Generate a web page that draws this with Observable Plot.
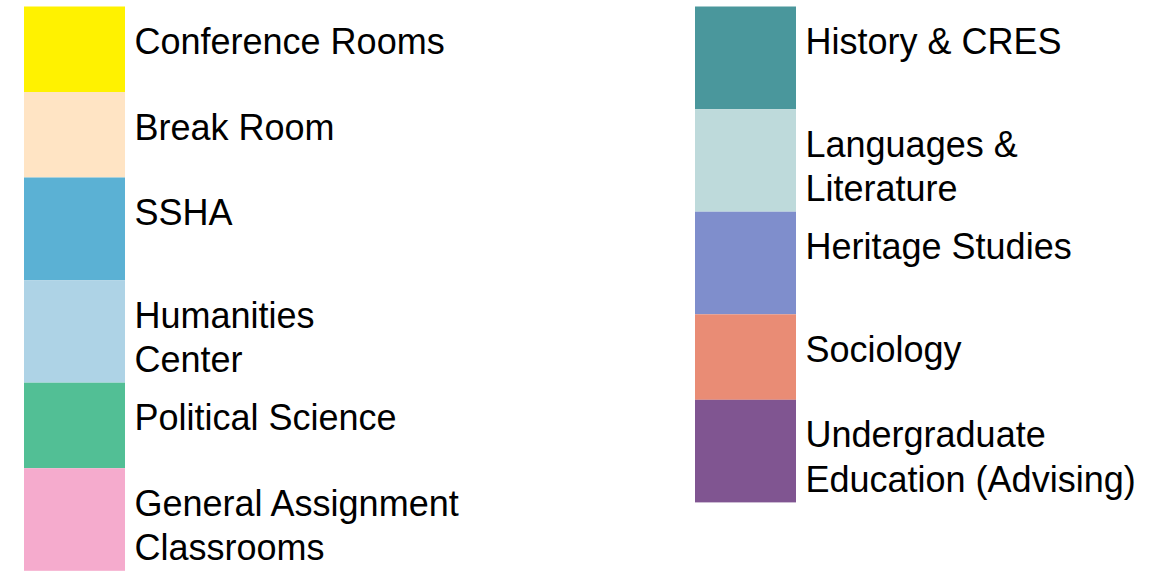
<!DOCTYPE html>
<html>
<head>
<meta charset="utf-8">
<script src="https://cdn.jsdelivr.net/npm/d3@7"></script>
<script src="https://cdn.jsdelivr.net/npm/@observablehq/plot@0.6"></script>
<style>
  html, body { margin: 0; padding: 0; background: #fff; }
  #chart svg { display: block; }
</style>
</head>
<body>
<div id="chart"></div>
<script>
// Legend entries: column (0 = left, 1 = right), label, relative block size, swatch colour
const columns = [0, 0, 0, 0, 0, 0, 1, 1, 1, 1, 1];
const labels = [
  "Conference Rooms",
  "Break Room",
  "SSHA",
  "Humanities\nCenter",
  "Political Science",
  "General Assignment\nClassrooms",
  "History & CRES",
  "Languages &\nLiterature",
  "Heritage Studies",
  "Sociology",
  "Undergraduate\nEducation (Advising)"
];
const sizes = [5, 5, 6, 6, 5, 6, 6, 6, 6, 5, 6];
const colors = [
  "#fff200", "#ffe4c4", "#5bb1d4", "#aed3e6", "#52bf95", "#f5abcd",
  "#4a979c", "#bedadb", "#7f8ecc", "#e98c75", "#805591"
];

const data = labels.map((label, i) => ({
  col: columns[i], label, size: sizes[i], color: colors[i]
}));

const chart = Plot.plot({
  width: 1154,
  height: 571,
  margin: 0,
  style: { background: "#fff", fontFamily: "'Liberation Sans', Arial, sans-serif" },
  x: { type: "band", domain: [0, 1], range: [23, 796], paddingInner: 0.8495, paddingOuter: 0, axis: null },
  y: { domain: [0, 33], range: [6.5, 570.8], axis: null },
  marks: [
    Plot.barY(data, Plot.stackY({ x: "col", y: "size", fill: "color", inset: 0 })),
    Plot.text(data, Plot.stackY1({
      x: "col", y: "size", text: "label",
      textAnchor: "start", lineAnchor: "top",
      dx: 59.5, dy: 15.5,
      fontSize: 36, lineHeight: 1.236, fill: "#000"
    }))
  ]
});
document.getElementById("chart").appendChild(chart);
</script>
</body>
</html>
